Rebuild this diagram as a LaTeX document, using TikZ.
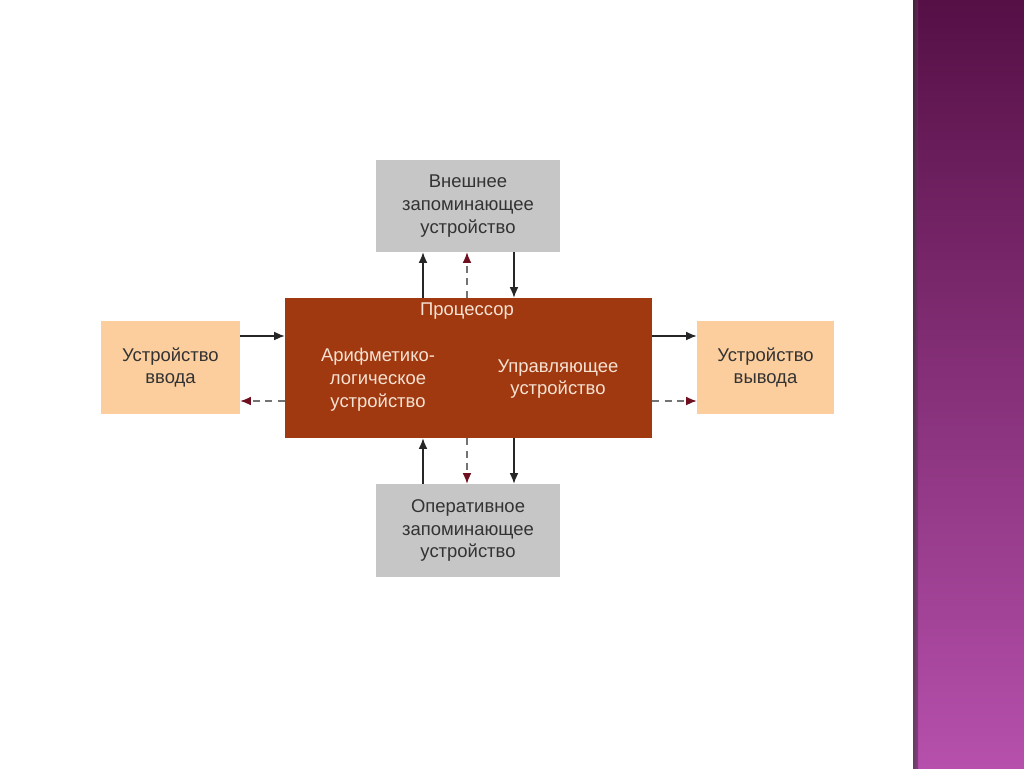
\documentclass[tikz,border=0pt]{standalone}
\usepackage{fontspec}
\setmainfont{Liberation Sans}
\usetikzlibrary{arrows.meta}
\definecolor{procbg}{HTML}{A03810}
\definecolor{peach}{HTML}{FCCE9E}
\definecolor{grayb}{HTML}{C6C6C6}
\definecolor{darkred}{HTML}{6E1020}
\definecolor{ptext}{HTML}{F6E2D2}
\definecolor{stripTop}{HTML}{561046}
\definecolor{stripBot}{HTML}{B650AC}
\begin{document}
\begin{tikzpicture}[x=0.02cm,y=-0.02cm,
  box/.style={rectangle,inner sep=0pt,align=center,font=\fontsize{10.5}{13}\selectfont,text=black!80},
  solidarr/.style={draw=black!85,line width=0.7pt,-{Latex[length=6pt,width=5pt]}},
  dasharr/.style={draw=black!55,line width=0.7pt,dashed,dash pattern=on 4pt off 3pt,-{Latex[length=6pt,width=5pt,color=darkred]}}]
\useasboundingbox (0,0) rectangle (1024,768);
\fill[white] (0,0) rectangle (1024,768);
% side strip
\shade[top color=stripTop,bottom color=stripBot] (913,0) rectangle (1024,768);
\shade[left color=black!80,right color=stripBot!60!black,opacity=0.6] (913,0) rectangle (918,768);
% boxes
\node[box,fill=grayb,minimum width=3.68cm,minimum height=1.84cm] (ext) at (468,206) {Внешнее\\запоминающее\\устройство};
\node[box,fill=grayb,minimum width=3.68cm,minimum height=1.86cm] (ram) at (468,530.5) {Оперативное\\запоминающее\\устройство};
\node[box,fill=procbg,minimum width=7.34cm,minimum height=2.8cm] (proc) at (468.5,368) {};
\node[box,fill=peach,minimum width=2.78cm,minimum height=1.86cm] (in) at (170.5,367.5) {Устройство\\ввода};
\node[box,fill=peach,minimum width=2.74cm,minimum height=1.86cm] (out) at (765.5,367.5) {Устройство\\вывода};
% processor texts
\node[box,text=ptext] (ptitle) at (467,311) {Процессор};
\node[box,text=ptext] (alu) at (378,380) {Арифметико-\\логическое\\устройство};
\node[box,text=ptext] (cu) at (558,379) {Управляющее\\устройство};
% coordinates for arrow positions
\coordinate (xa) at (423,0);
\coordinate (xb) at (467,0);
\coordinate (xc) at (514,0);
\coordinate (ya) at (0,336);
\coordinate (yb) at (0,401);
% top arrows
\draw[solidarr] (proc.north -| xa) -- (ext.south -| xa);
\draw[dasharr] (proc.north -| xb) -- (ext.south -| xb);
\draw[solidarr] (ext.south -| xc) -- (proc.north -| xc);
% bottom arrows
\draw[solidarr] (ram.north -| xa) -- (proc.south -| xa);
\draw[dasharr] (proc.south -| xb) -- (ram.north -| xb);
\draw[solidarr] (proc.south -| xc) -- (ram.north -| xc);
% left arrows
\draw[solidarr] (in.east |- ya) -- (proc.west |- ya);
\draw[dasharr] (proc.west |- yb) -- (in.east |- yb);
% right arrows
\draw[solidarr] (proc.east |- ya) -- (out.west |- ya);
\draw[dasharr] (proc.east |- yb) -- (out.west |- yb);
\end{tikzpicture}
\end{document}
